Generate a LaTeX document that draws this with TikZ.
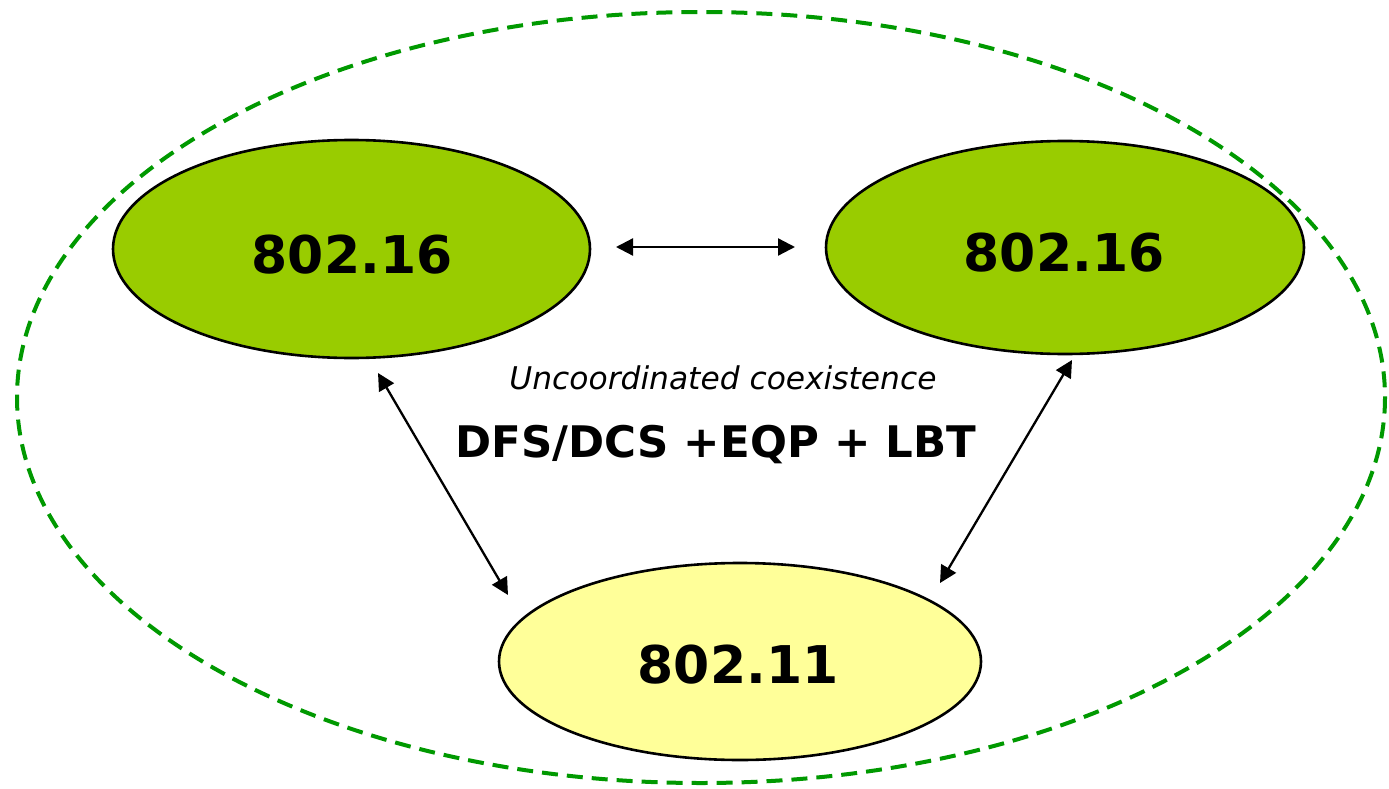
\documentclass[tikz,border=0pt]{standalone}
\usepackage{fontspec}
\setmainfont{DejaVu Sans}
\usetikzlibrary{shapes.geometric,arrows.meta}
\definecolor{wimaxgreen}{HTML}{99CC00}
\definecolor{wifiyellow}{HTML}{FFFF99}
\definecolor{zonegreen}{HTML}{009900}
\tikzset{
  stdblob/.style={ellipse, draw=black, line width=2.6pt, inner sep=0pt},
  numtext/.style={anchor=base, inner sep=0pt, font=\fontsize{52}{60}\selectfont\bfseries},
  link/.style={line width=2.3pt, {Triangle[length=17pt,width=17pt]}-{Triangle[length=17pt,width=17pt]}},
  zone/.style={draw=zonegreen, line width=4pt, dash pattern=on 16pt off 9pt}
}
\begin{document}
\begin{tikzpicture}[x=1pt,y=-1pt]
\useasboundingbox (0,0) rectangle (1389,789);
% standards
\node[stdblob, fill=wimaxgreen, minimum width=477pt, minimum height=218pt] (wl) at (351.5,249) {};
\node[stdblob, fill=wimaxgreen, minimum width=478pt, minimum height=213pt] (wr) at (1065,247.5) {};
\node[stdblob, fill=wifiyellow, minimum width=482pt, minimum height=197pt] (wf) at (740,661.5) {};
\node[numtext] (tl) at (352,273) {802.16};
\node[numtext] (tr) at (1064,271) {802.16};
\node[numtext] (tf) at (738,683) {802.11};
% coexistence zone
\draw[zone] (701,397.5) ellipse [x radius=684, y radius=385.5];
% labels
\node[anchor=base, inner sep=0pt, font=\fontsize{31.3}{36}\selectfont\itshape] (uc) at (723,389) {Uncoordinated coexistence};
\node[anchor=base, inner sep=0pt, font=\fontsize{43.5}{50}\selectfont\bfseries] (mech) at (716,457) {DFS/DCS +EQP + LBT};
% arrow end points
\coordinate (h1) at (616,247);
\coordinate (h2) at (795,247);
\coordinate (d1) at (378,373);
\coordinate (d2) at (508,595);
\coordinate (e1) at (1072,360);
\coordinate (e2) at (940,583);
\draw[link] (h1) -- (h2);
\draw[link] (d1) -- (d2);
\draw[link] (e1) -- (e2);
\end{tikzpicture}
\end{document}
